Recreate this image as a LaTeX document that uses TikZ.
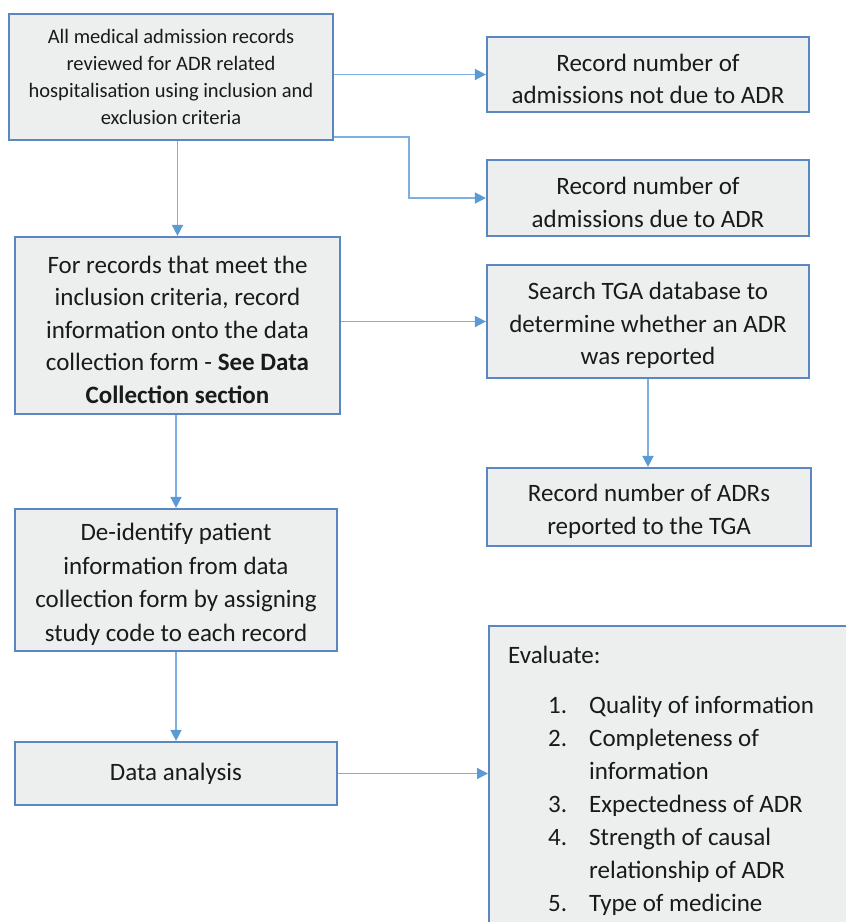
\documentclass[tikz,border=0pt]{standalone}
\usepackage{fontspec}
\setmainfont{Carlito}
\definecolor{boxline}{HTML}{5B87C0}
\definecolor{boxfill}{HTML}{EDEEEE}
\definecolor{linkblue}{HTML}{7DB0E2}
\definecolor{tipblue}{HTML}{5B9BD5}
\definecolor{txt}{HTML}{1A1A1A}
\usetikzlibrary{arrows.meta, positioning, calc}
\tikzset{
  box/.style={
    draw=boxline, fill=boxfill, line width=2.2pt,
    minimum height=#1, text=txt, align=center, inner sep=0pt,
    font=\fontsize{25}{32.5}\selectfont
  },
  box/.default=76pt,
  smallbox/.style={
    box=#1, font=\fontsize{20.5}{26.7}\selectfont
  },
  arr/.style={-{Triangle[length=11pt,width=11pt,color=tipblue]}, line width=1.6pt, color=linkblue},
  evaltxt/.style={text=txt, align=left, inner sep=0pt, font=\fontsize{25}{33}\selectfont},
}
\newcommand{\evalitem}[2]{\hspace*{40pt}\makebox[41pt][l]{#1}#2}
\newcommand{\ts}{\rule{0pt}{26pt}}

\begin{document}
\begin{tikzpicture}[x=1pt, y=-1pt]
  \useasboundingbox (0,0) rectangle (846,922);
  \clip (0,0) rectangle (846,922);

  % Left column
  \node[smallbox=126pt, minimum width=324pt] (review) at (171,77)
    {All medical admission records\\reviewed for ADR related\\hospitalisation using inclusion and\\exclusion criteria};
  \node[box=177pt, minimum width=325pt] (collect) at (177.5,325.5)
    {\ts For records that meet the\\inclusion criteria, record\\information onto the data\\collection form - \textbf{See Data}\\\textbf{Collection section}};
  \node[box=142pt, minimum width=322pt, font=\fontsize{25}{33.6}\selectfont] (deid) at (176,580)
    {\ts De-identify patient\\information from data\\collection form by assigning\\study code to each record};
  \node[box=63pt, minimum width=322pt] (analysis) at (176,773.5) {Data analysis};

  % Right column
  \node[box=75pt, minimum width=322pt] (notadr) at (648,74.5)
    {\ts Record number of\\admissions not due to ADR};
  \node[box=76pt, minimum width=322pt] (dueadr) at (648,198)
    {\ts Record number of\\admissions due to ADR};
  \node[box=113pt, minimum width=322pt] (tga) at (648,321.5)
    {\ts Search TGA database to\\determine whether an ADR\\was reported};
  \node[box=78pt, minimum width=324pt] (reported) at (649,507)
    {\ts Record number of ADRs\\reported to the TGA};

  % Evaluation box
  \node[box=330pt, minimum width=380pt, anchor=north west] (eval) at (488,625) {};
  \node[evaltxt, anchor=north west] (evaltext) at ($(eval.north west)+(20,21)$)
    {Evaluate:\\[17pt]
     \evalitem{1.}{Quality of information}\\
     \evalitem{2.}{Completeness of}\\
     \evalitem{}{information}\\
     \evalitem{3.}{Expectedness of ADR}\\
     \evalitem{4.}{Strength of causal}\\
     \evalitem{}{relationship of ADR}\\
     \evalitem{5.}{Type of medicine}};

  \coordinate (bend) at (409,137);

  \draw[arr] (review.east |- notadr.west) -- (notadr.west);
  \draw[arr] (review.east |- bend) -- (bend) |- (dueadr.west);
  \draw[arr] (review.south -| collect.north) -- (collect.north);
  \draw[arr] (collect.east |- tga.west) -- (tga.west);
  \draw[arr] (tga.south) -- (tga.south |- reported.north);
  \draw[arr] (collect.south -| deid.north) -- (deid.north);
  \draw[arr] (deid.south) -- (analysis.north);
  \draw[arr] (analysis.east) -- (analysis.east -| eval.west);
\end{tikzpicture}
\end{document}
